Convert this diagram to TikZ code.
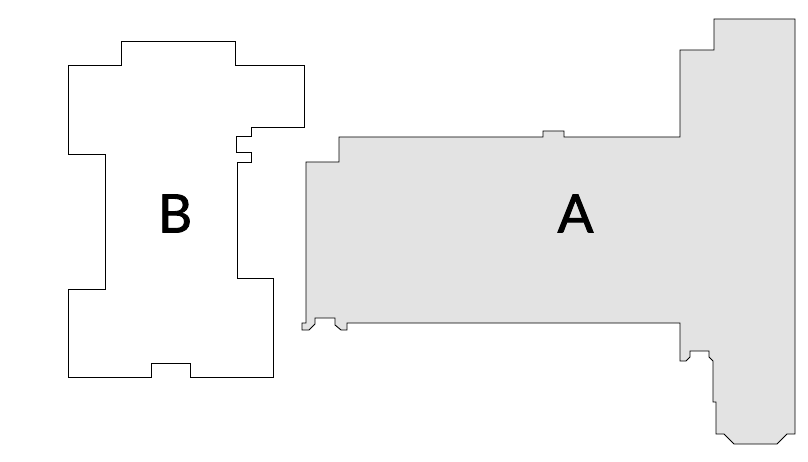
\documentclass[tikz,border=0pt]{standalone}
\usepackage{fontspec}
\newfontfamily\roomfont[FakeBold=1.6]{Lato}
\begin{document}
\begin{tikzpicture}
[x=1pt,y=-1pt,
  roomline/.style={draw=black,line width=0.9pt,line join=miter},
  roomlabel/.style={font=\roomfont\fontsize{53}{53}\selectfont,text=black,inner sep=0pt}]
\useasboundingbox (0,0) rectangle (808,462);
% block A
\path[roomline,fill=black!11]
(306,162) -- (339,162) -- (339,137) -- (543,137) -- (543,131) -- (564,131) -- (564,137)
-- (680,137) -- (680,50) -- (714,50) -- (714,19) -- (795,19) -- (795,434)
-- (787,434) -- (777,444) -- (734,444) -- (724,434) -- (716,434) -- (716,402)
-- (713,402) -- (713,361) -- (709,357) -- (709,351) -- (690,351) -- (690,357)
-- (686,361) -- (680,361) -- (680,323)
-- (347,323) -- (347,330) -- (341,330) -- (335,325) -- (335,318) -- (315,318)
-- (315,324) -- (309,330) -- (302,330) -- (302,323) -- (306,323) -- cycle;
% block B
\path[roomline]
(68.5,65) -- (121,65) -- (121,41) -- (235,41) -- (235,65) -- (304.5,65) -- (304.5,127)
-- (251,127) -- (251,136) -- (236,136) -- (236,152) -- (251,152) -- (251,162)
-- (237,162) -- (237,278) -- (273,278) -- (273,377) -- (190,377) -- (190,363)
-- (151,363) -- (151,377) -- (68.5,377) -- (68.5,289) -- (105,289) -- (105,154)
-- (68.5,154) -- cycle;
% labels
\node (labelA) at (575.5,213.5) [roomlabel] {A};
\node (labelB) at (175,213.5) [roomlabel] {B};
\end{tikzpicture}
\end{document}
